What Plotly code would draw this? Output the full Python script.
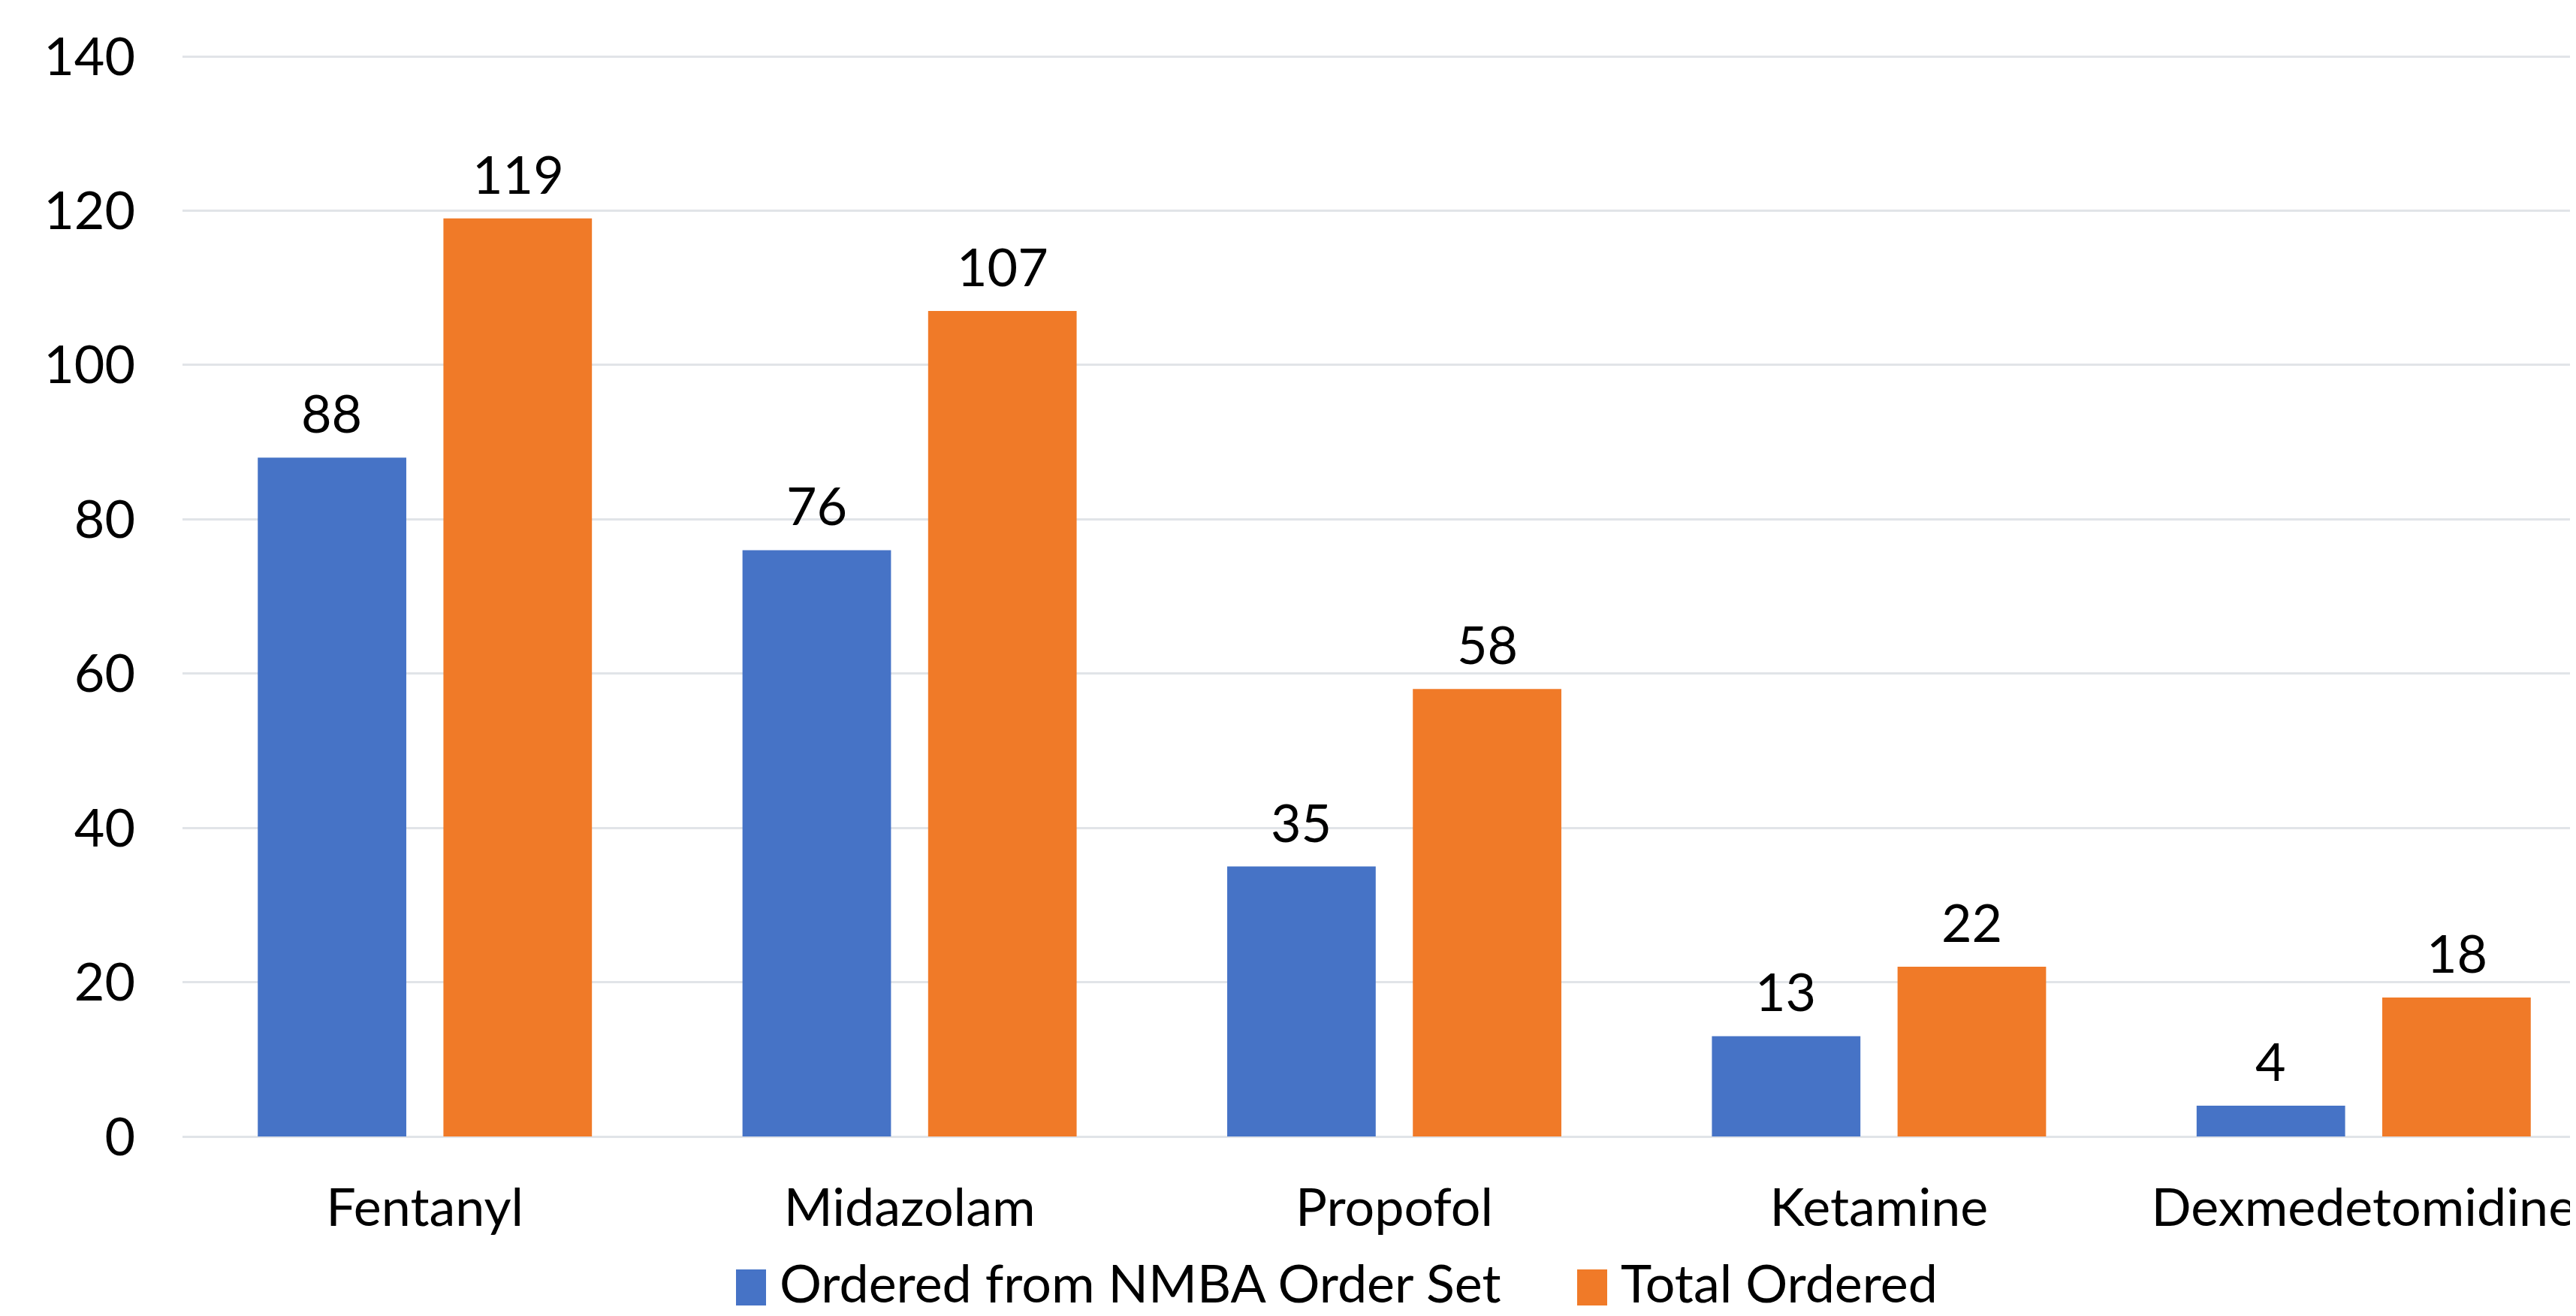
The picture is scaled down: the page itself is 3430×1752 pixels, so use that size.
import plotly.graph_objects as go

drugs = ['Fentanyl', 'Midazolam', 'Propofol', 'Ketamine', 'Dexmedetomidine']
from_order_set = [88, 76, 35, 13, 4]
total_ordered = [119, 107, 58, 22, 18]
series_names = ['Ordered from NMBA Order Set', 'Total Ordered']

blue = '#4673c6'
orange = '#f07a28'
font = 'Lato'
fsize = 70

# the page body adds an 8px margin, so the figure is made 8px smaller
W, H = 3422, 1744
L, T, B = 235, 65, 239
pw = W - L
ph = H - T - B

fig = go.Figure()
fig.add_trace(go.Bar(x=drugs, y=from_order_set, name=series_names[0],
                     marker_color=blue, marker_line_width=0))
fig.add_trace(go.Bar(x=drugs, y=total_ordered, name=series_names[1],
                     marker_color=orange, marker_line_width=0))

# value labels above each bar, shifted onto the bar centres
for vals, shift in [(from_order_set, -124), (total_ordered, 124)]:
    for d, v in zip(drugs, vals):
        fig.add_annotation(x=d, y=v, text=str(v), showarrow=False,
                           xshift=shift, yshift=16, yanchor='bottom',
                           font=dict(family=font, size=fsize, color='black'))

# legend drawn by hand so the swatches are big like the original
def px(x):
    return (x - 8 - L) / pw

def py(y):
    return -(y - 8 - (H - B)) / ph

legend_items = [(980, series_names[0], blue), (2100, series_names[1], orange)]
for x0, label, col in legend_items:
    fig.add_shape(type='rect', xref='paper', yref='paper',
                  x0=px(x0), x1=px(x0 + 40), y0=py(1690), y1=py(1738),
                  fillcolor=col, line_width=0)
    fig.add_annotation(xref='paper', yref='paper', x=px(x0 + 56), y=py(1707),
                       text=label, showarrow=False, xanchor='left',
                       yanchor='middle',
                       font=dict(family=font, size=fsize, color='black'))

fig.update_layout(
    width=W, height=H,
    margin=dict(l=L, r=0, t=T, b=B),
    plot_bgcolor='white', paper_bgcolor='white',
    barmode='group', bargap=0.234, bargroupgap=0.2,
    showlegend=False,
    font=dict(family=font, size=fsize, color='black'),
)
fig.update_xaxes(range=[-0.5, 4.438], showgrid=False, showline=False,
                 ticks='', ticklabelstandoff=48)
fig.update_yaxes(range=[0, 140.2], dtick=20, showgrid=True,
                 gridcolor='#e1e4e8', gridwidth=3, zeroline=True,
                 zerolinecolor='#e1e4e8', zerolinewidth=3,
                 showline=False, ticks='', ticklabelstandoff=62)

fig.write_html('out.html')
